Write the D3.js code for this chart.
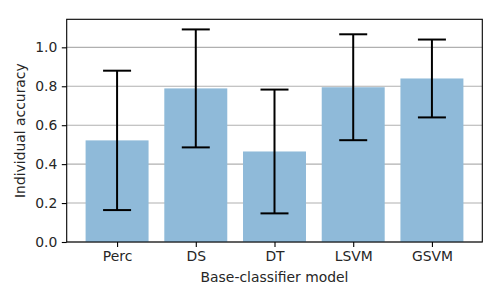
<!DOCTYPE html>
<html>
<head>
<meta charset="utf-8">
<script src="https://d3js.org/d3.v7.min.js"></script>
<style>
    body { margin: 0; background: white; }
    text { font-family: "DejaVu Sans", sans-serif; fill: #262626; }
</style>
</head>
<body>
<div id="chart"></div>
<script>
// Data
const models = ['Perc', 'DS', 'DT', 'LSVM', 'GSVM'];
const accuracy = [0.522, 0.789, 0.465, 0.795, 0.840];
const errors = [0.358, 0.303, 0.318, 0.272, 0.200];
const yTicks = [0.0, 0.2, 0.4, 0.6, 0.8, 1.0];

const width = 500;
const height = 300;
const margin = { top: 19.3, right: 17.7, bottom: 58, left: 66.7 };
const innerW = width - margin.left - margin.right;
const innerH = height - margin.top - margin.bottom;

const svg = d3.select('#chart')
    .append('svg')
    .attr('width', width)
    .attr('height', height);

const g = svg.append('g')
    .attr('transform', `translate(${margin.left},${margin.top})`);

// matplotlib-style linear x: bars centred on integers, 5% margins
const x = d3.scaleLinear()
    .domain([-0.64, models.length - 1 + 0.64])
    .range([0, innerW]);

const y = d3.scaleLinear()
    .domain([0, 1.144])
    .range([innerH, 0]);

// Horizontal grid
g.append('g')
    .selectAll('line')
    .data(yTicks)
    .enter()
    .append('line')
    .attr('x1', 0)
    .attr('x2', innerW)
    .attr('y1', d => y(d))
    .attr('y2', d => y(d))
    .attr('stroke', '#b0b0b0')
    .attr('stroke-width', 1.1);

// Bars
const barW = x(0.8) - x(0);
g.append('g')
    .selectAll('rect')
    .data(models)
    .enter()
    .append('rect')
    .attr('x', (d, i) => x(i) - barW / 2)
    .attr('y', (d, i) => y(accuracy[i]))
    .attr('width', barW)
    .attr('height', (d, i) => y(0) - y(accuracy[i]))
    .attr('fill', '#8fbad9');

// Error bars
const capHalf = 14;
const err = g.append('g')
    .selectAll('g')
    .data(models)
    .enter()
    .append('g')
    .attr('stroke', '#000')
    .attr('stroke-width', 2);

err.append('line')
    .attr('x1', (d, i) => x(i))
    .attr('x2', (d, i) => x(i))
    .attr('y1', (d, i) => y(accuracy[i] - errors[i]))
    .attr('y2', (d, i) => y(accuracy[i] + errors[i]));

[-1, 1].forEach(sign => {
    err.append('line')
        .attr('x1', (d, i) => x(i) - capHalf)
        .attr('x2', (d, i) => x(i) + capHalf)
        .attr('y1', (d, i) => y(accuracy[i] + sign * errors[i]))
        .attr('y2', (d, i) => y(accuracy[i] + sign * errors[i]));
});

// Axes
const xAxis = d3.axisBottom(x)
    .tickValues(d3.range(models.length))
    .tickFormat(i => models[i])
    .tickSize(4.9)
    .tickPadding(4.5);

const yAxis = d3.axisLeft(y)
    .tickValues(yTicks)
    .tickFormat(d3.format('.1f'))
    .tickSize(4.9)
    .tickPadding(4.5);

const xg = g.append('g')
    .attr('transform', `translate(0,${innerH})`)
    .call(xAxis);
const yg = g.append('g').call(yAxis);

[xg, yg].forEach(ax => {
    ax.select('.domain').remove();
    ax.selectAll('.tick line').attr('stroke', '#000').attr('stroke-width', 1.1);
    ax.selectAll('.tick text')
        .style('font-family', '"DejaVu Sans", sans-serif')
        .style('font-size', '13.9px')
        .attr('fill', '#262626');
});

// Frame
g.append('rect')
    .attr('x', 0)
    .attr('y', 0)
    .attr('width', innerW)
    .attr('height', innerH)
    .attr('fill', 'none')
    .attr('stroke', '#000')
    .attr('stroke-width', 1.1);

// Axis labels
svg.append('text')
    .attr('x', margin.left + innerW / 2)
    .attr('y', 282)
    .attr('text-anchor', 'middle')
    .style('font-size', '13.9px')
    .text('Base-classifier model');

svg.append('text')
    .attr('transform', `translate(25,${margin.top + innerH / 2}) rotate(-90)`)
    .attr('text-anchor', 'middle')
    .style('font-size', '13.9px')
    .text('Individual accuracy');
</script>
</body>
</html>
